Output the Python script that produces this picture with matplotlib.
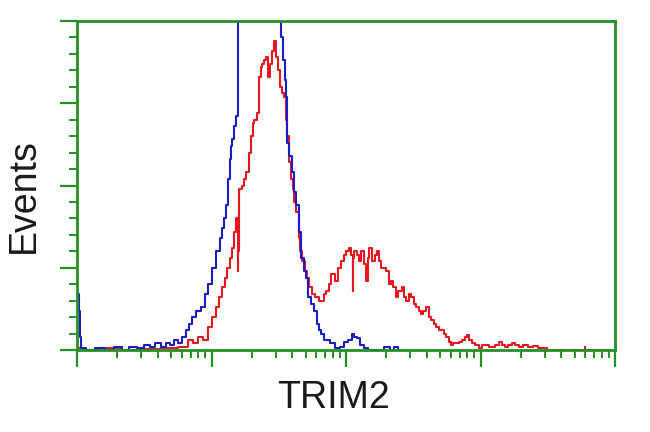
import numpy as np
import matplotlib
matplotlib.use('Agg')
import matplotlib.pyplot as plt
from matplotlib.ticker import LogLocator, NullFormatter, MultipleLocator

plt.rcParams['font.family'] = ['Liberation Sans', 'DejaVu Sans']

# ---- histogram data (log10 intensity, events as % of axis height) --------
blue_logx = [0.000, 0.008, 0.016, 0.024, 0.037, 0.097, 0.171, 0.245, 0.305,
             0.357, 0.416, 0.468, 0.520, 0.558, 0.602, 0.639, 0.677, 0.706,
             0.736, 0.766, 0.796, 0.818, 0.840, 0.870, 0.900, 0.937, 0.959,
             0.989, 1.019, 1.048, 1.071, 1.086, 1.100, 1.115, 1.130, 1.138,
             1.152, 1.160, 1.175, 1.190, 1.197, 1.204, 1.249, 1.323, 1.398,
             1.472, 1.509, 1.524, 1.539, 1.554, 1.561, 1.569, 1.584, 1.606,
             1.621, 1.636, 1.658, 1.680, 1.695, 1.710, 1.732, 1.747, 1.770,
             1.792, 1.807, 1.822, 1.844, 1.866, 1.896, 1.933, 1.970, 1.993,
             2.030, 2.052, 2.074, 2.089, 2.119, 2.141, 2.178, 2.253, 2.312,
             2.342, 2.372, 2.401]
blue_events = [17, 17, 12, 4, 0.5, 0, 0.5, 0, 1,
               0, 1, 0.5, 1.5, 1, 2, 1, 2, 1.5,
               3, 2, 4, 6, 8, 10, 12, 13, 17,
               20, 25, 30, 34, 37, 40, 44, 52, 58,
               62, 64, 68, 71, 90, 120, 140, 170, 160,
               130, 120, 95, 88, 82, 77, 63, 59, 54,
               48, 44, 36, 28, 24, 22, 16, 14, 12,
               8, 6, 5, 3, 3, 2, 0.6, 1, 2.5,
               3, 5, 4, 3.5, 1.5, 0.5, 0, 0, 0.8,
               0, 0.8, 0]

red_logx = [0.007, 0.097, 0.245, 0.394, 0.543, 0.691, 0.803, 0.840, 0.877,
            0.915, 0.952, 0.989, 1.019, 1.041, 1.063, 1.086, 1.108, 1.123,
            1.145, 1.160, 1.175, 1.190, 1.197, 1.204, 1.212, 1.234, 1.249,
            1.271, 1.286, 1.301, 1.309, 1.323, 1.346, 1.361, 1.375, 1.383,
            1.398, 1.413, 1.428, 1.442, 1.457, 1.472, 1.487, 1.502, 1.517,
            1.532, 1.546, 1.561, 1.569, 1.584, 1.599, 1.606, 1.621, 1.636,
            1.658, 1.665, 1.680, 1.703, 1.717, 1.732, 1.755, 1.784, 1.807,
            1.822, 1.844, 1.859, 1.881, 1.903, 1.933, 1.955, 1.970, 1.993,
            2.007, 2.030, 2.045, 2.052, 2.059, 2.067, 2.089, 2.104, 2.126,
            2.141, 2.156, 2.164, 2.178, 2.201, 2.223, 2.238, 2.253, 2.268,
            2.290, 2.305, 2.327, 2.342, 2.364, 2.379, 2.401, 2.424, 2.439,
            2.454, 2.476, 2.491, 2.513, 2.528, 2.550, 2.565, 2.587, 2.602,
            2.625, 2.639, 2.662, 2.677, 2.699, 2.714, 2.736, 2.751, 2.773,
            2.788, 2.810, 2.825, 2.848, 2.870, 2.892, 2.907, 2.929, 2.944,
            2.974, 2.996, 3.026, 3.048, 3.071, 3.093, 3.123, 3.145, 3.167,
            3.197, 3.219, 3.242, 3.271, 3.294, 3.331, 3.368, 3.405, 3.442,
            3.480, 3.502, 3.591, 3.770, 3.777, 3.784, 3.963]
red_events = [0.5, 0, 0.5, 0, 0.3, 0.5, 1, 3, 2,
              4, 3, 7, 10, 13, 16, 19, 22, 25,
              28, 31, 36, 40, 24, 30, 49, 50, 52,
              54, 60, 65, 69, 70, 72, 83, 86, 87,
              88, 89, 83, 87, 91, 94, 89, 85, 80,
              78, 77, 70, 65, 57, 52, 49, 45, 42,
              34, 30, 27, 24, 22, 19, 17, 16, 15,
              15, 17, 18, 20, 23, 21, 25, 27, 29,
              30, 31, 29, 18, 28, 30, 29, 27, 30,
              26, 21, 28, 31, 27, 29, 30, 27, 25,
              25, 24, 20, 21, 19, 16, 18, 19, 16,
              15, 17, 16, 14, 13, 12, 11, 12, 13,
              10, 9, 8, 7, 6, 6, 5, 4, 2.5,
              1.5, 2, 2, 2.5, 3, 4, 4.5, 3, 2,
              1.5, 0.7, 1.5, 1.5, 1, 1, 1.5, 2.5, 1.5,
              1, 1.5, 2, 1.5, 1, 1.5, 1, 1.2, 0.5,
              0.5, 0, 0, 0, 1, 0, 0]

GREEN = '#249124'
RED = '#e8171f'
BLUE = '#1c1cc4'

fig = plt.figure(figsize=(6.5, 4.32), dpi=100)
ax = fig.add_axes([77 / 650, 1 - 350 / 432, 538 / 650, 329 / 432])

ax.plot(10 ** np.array(red_logx), red_events, color=RED, lw=1.5,
        drawstyle='steps-mid')
ax.plot(10 ** np.array(blue_logx), blue_events, color=BLUE, lw=1.5,
        drawstyle='steps-mid')

ax.set_xscale('log')
ax.set_xlim(1, 1e4)
ax.set_ylim(0, 100)

ax.xaxis.set_major_locator(LogLocator(base=10, numticks=10))
ax.xaxis.set_minor_locator(LogLocator(base=10, subs=np.arange(2, 10),
                                      numticks=20))
ax.xaxis.set_major_formatter(NullFormatter())
ax.xaxis.set_minor_formatter(NullFormatter())
ax.yaxis.set_major_locator(MultipleLocator(25))
ax.yaxis.set_minor_locator(MultipleLocator(5))
ax.yaxis.set_major_formatter(NullFormatter())

ax.tick_params(which='major', direction='out', length=12, width=1.6,
               color=GREEN)
ax.tick_params(which='minor', direction='out', length=6, width=1.4,
               color=GREEN)
for spine in ax.spines.values():
    spine.set_color(GREEN)
    spine.set_linewidth(2)

fig.text(334 / 650, 1 - 408 / 432, 'TRIM2', fontsize=27, ha='center',
         va='baseline', color='#1a1a1a')
fig.text(24 / 650, 1 - 196 / 432, 'Events', fontsize=27, ha='center',
         va='center', rotation=90, color='#1a1a1a')

fig.savefig('out.png', dpi=100)
